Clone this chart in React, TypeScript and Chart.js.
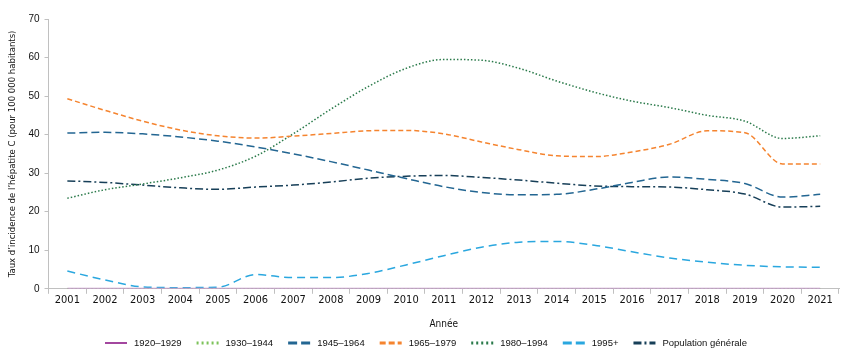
import React, { useEffect, useRef } from "react";
import { Chart, registerables } from "chart.js";

Chart.register(...registerables);

const years = ["2001","2002","2003","2004","2005","2006","2007","2008","2009","2010","2011","2012","2013","2014","2015","2016","2017","2018","2019","2020","2021"];
const c1920 = [0,0,0,0,0,0,0,0,0,0,0,0,0,0,0,0,0,0,0,0,0];
const c1930 = [0,0,0,0,0,0,0,0,0,0,0,0,0,0,0,0,0,0,0,0,0];
const c1945 = [40.4,40.6,40.2,39.4,38.3,36.8,35.0,33.0,30.8,28.6,26.5,25.0,24.4,24.5,25.8,27.6,29.0,28.4,27.3,23.8,24.5];
const c1965 = [49.3,46.3,43.5,41.2,39.7,39.1,39.6,40.3,41.0,41.1,40.2,38.1,36.1,34.5,34.3,35.5,37.5,41.0,40.5,32.4,32.4];
const c1980 = [23.5,25.7,27.2,28.8,30.8,34.4,40.2,46.6,52.5,57.2,59.5,59.3,57.2,53.9,51.0,48.7,47.0,45.0,43.5,39.0,39.7];
const c1995 = [4.6,2.3,0.5,0.3,0.4,3.7,2.9,2.9,4.0,6.2,8.6,10.8,12.1,12.3,11.3,9.6,8.0,6.9,6.1,5.7,5.6];
const popGen = [28.0,27.6,26.9,26.2,25.8,26.4,26.9,27.7,28.7,29.2,29.4,28.9,28.2,27.4,26.7,26.5,26.4,25.7,24.6,21.2,21.4];
const yTicks = [0,10,20,30,40,50,60,70];

const narrow = "'Liberation Sans Narrow', 'DejaVu Sans Condensed', Arial, sans-serif";
const sans = "'Liberation Sans', Arial, sans-serif";

const bottomLegend = {
  id: "bottomLegend",
  afterDraw(chart: any) {
    const ctx = chart.ctx as CanvasRenderingContext2D;
    const ds = chart.data.datasets as any[];
    const lineW = 22, gap = 7, after = 15;
    ctx.save();
    ctx.font = `9.5px ${sans}`;
    const widths = ds.map((d) => lineW + gap + ctx.measureText(d.label).width);
    const total = widths.reduce((a, b) => a + b, 0) + after * (ds.length - 1);
    let x = chart.width / 2 + 1 - total / 2;
    const y = 343;
    ds.forEach((d, i) => {
      ctx.beginPath();
      ctx.strokeStyle = d.legendColor || d.borderColor;
      ctx.lineWidth = d.legendWidth || 3;
      ctx.setLineDash(d.legendDash || []);
      ctx.moveTo(x, y);
      ctx.lineTo(x + lineW, y);
      ctx.stroke();
      ctx.setLineDash([]);
      ctx.fillStyle = "#111";
      ctx.textBaseline = "middle";
      ctx.textAlign = "left";
      ctx.fillText(d.label, x + lineW + gap, y);
      x += widths[i] + after;
    });
    ctx.restore();
  },
};

export default function App() {
  const ref = useRef<HTMLCanvasElement>(null);
  useEffect(() => {
    if (!ref.current) return;
    const mk = (label: string, data: number[], color: string, dash: number[], width: number, legendDash: number[], extra: any = {}) => ({
      label, data, borderColor: color, backgroundColor: color, borderDash: dash, borderWidth: width,
      pointRadius: 0, cubicInterpolationMode: "monotone", fill: false, legendDash, ...extra,
    });
    const datasets: any[] = [
      mk("1920–1929", c1920, "#c59dcb", [], 2, [], { legendColor: "#a3479f", legendWidth: 2 }),
      mk("1930–1944", c1930, "#7dc25a", [1.5, 2.5], 1.5, [2, 3]),
      mk("1945–1964", c1945, "#236692", [8, 4], 1.5, [9, 4]),
      mk("1965–1979", c1965, "#f5842f", [5, 3], 1.5, [6, 3]),
      mk("1980–1994", c1980, "#2a7a4a", [1.5, 2], 1.5, [2, 3]),
      mk("1995+", c1995, "#2aa7df", [8, 5], 1.5, [9, 4]),
      mk("Population générale", popGen, "#173f58", [8, 3, 2, 3], 1.5, [8, 3, 2, 3]),
    ];
    const chart = new Chart(ref.current, {
      type: "line",
      data: { labels: years, datasets },
      plugins: [bottomLegend],
      options: {
        animation: false,
        responsive: false,
        maintainAspectRatio: false,
        layout: { padding: { top: 19, right: 11, left: 7, bottom: 31 } },
        plugins: {
          tooltip: { enabled: false },
          legend: { display: false },
        },
        scales: {
          x: {
            offset: true,
            grid: { offset: true, drawOnChartArea: false, drawTicks: true, tickLength: 5, color: "#c0c0c0" },
            border: { color: "#c0c0c0" },
            ticks: { color: "#111", font: { family: narrow, size: 11 }, maxRotation: 0, autoSkip: false, padding: 0 },
            title: { display: true, text: "Année", color: "#111", font: { family: narrow, size: 10 }, padding: { top: 11, bottom: 0 } },
          },
          y: {
            min: 0, max: 70,
            afterBuildTicks: (axis: any) => { axis.ticks = yTicks.map((v) => ({ value: v })); },
            grid: { drawOnChartArea: false, drawTicks: true, tickLength: 4, color: "#c0c0c0" },
            border: { color: "#c0c0c0" },
            ticks: { color: "#111", font: { family: sans, size: 10 }, padding: 5 },
            title: { display: true, text: "Taux d’incidence de l’hépatite C (pour 100 000 habitants)", color: "#111", font: { family: narrow, size: 9.5 }, padding: { top: 0, bottom: 5 } },
          },
        },
      } as any,
    });
    return () => chart.destroy();
  }, []);
  return (
    <div style={{ position: "fixed", left: 0, top: 0, width: 850, height: 361, background: "#fff" }}>
      <canvas ref={ref} width={850} height={361} style={{ width: 850, height: 361 }} />
    </div>
  );
}
